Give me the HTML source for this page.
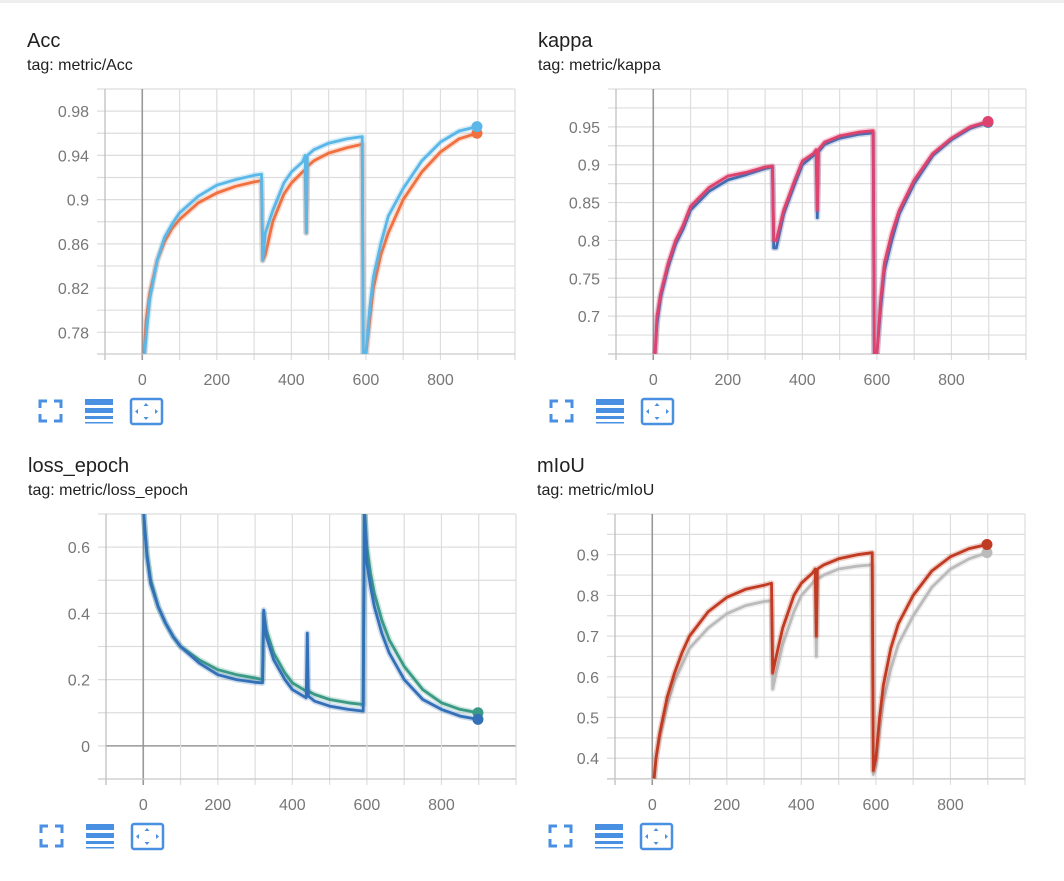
<!DOCTYPE html>
<html><head><meta charset="utf-8"><style>
body{margin:0;background:#fff;width:1064px;height:876px;overflow:hidden;font-family:"Liberation Sans",sans-serif}
svg text{font-family:"Liberation Sans",sans-serif}
</style></head><body>
<svg id="root" width="1064" height="876" viewBox="0 0 1064 876">
<rect x="0" y="0" width="1064" height="3" fill="#eee"/>
</svg>
<script>
// Shared step samples
const steps = [5,10,20,40,60,80,100,150,200,250,300,320,323,330,350,380,400,430,437,440,443,460,500,550,590,593,600,610,620,640,660,700,750,800,850,898];
const xTicks = [0,200,400,600,800];

const accOrange = [0.76,0.79,0.815,0.845,0.862,0.874,0.882,0.897,0.906,0.912,0.916,0.917,0.845,0.85,0.88,0.905,0.915,0.925,0.927,0.87,0.93,0.935,0.942,0.947,0.950,0.76,0.76,0.79,0.82,0.85,0.87,0.9,0.925,0.943,0.955,0.960];
const accBlue = [0.755,0.775,0.81,0.845,0.866,0.878,0.888,0.903,0.913,0.918,0.922,0.923,0.845,0.87,0.89,0.915,0.925,0.934,0.94,0.87,0.94,0.945,0.951,0.955,0.957,0.76,0.76,0.80,0.83,0.86,0.885,0.91,0.935,0.952,0.962,0.966];
const accTicks = [0.78,0.82,0.86,0.9,0.94,0.98];

const kappaBlue = [0.65,0.69,0.725,0.765,0.795,0.815,0.84,0.865,0.88,0.887,0.895,0.897,0.79,0.79,0.835,0.875,0.9,0.912,0.917,0.83,0.917,0.927,0.935,0.94,0.942,0.65,0.65,0.71,0.76,0.80,0.835,0.875,0.912,0.933,0.948,0.956];
const kappaPink = [0.65,0.7,0.73,0.77,0.8,0.82,0.845,0.87,0.885,0.89,0.897,0.898,0.8,0.80,0.84,0.88,0.905,0.915,0.92,0.84,0.92,0.93,0.938,0.943,0.945,0.65,0.65,0.72,0.77,0.81,0.84,0.88,0.915,0.935,0.95,0.957];
const kappaTicks = [0.7,0.75,0.8,0.85,0.9,0.95];

const lossSteps = [0,5,10,20,40,60,80,100,150,200,250,300,320,323,330,350,380,400,430,437,440,443,460,500,550,590,593,600,610,620,640,660,700,750,800,850,898];
const lossTeal = [0.72,0.65,0.58,0.5,0.42,0.37,0.33,0.3,0.26,0.23,0.215,0.205,0.2,0.4,0.35,0.28,0.22,0.19,0.17,0.165,0.165,0.165,0.155,0.14,0.13,0.125,0.72,0.6,0.52,0.46,0.38,0.32,0.24,0.17,0.13,0.11,0.1];
const lossBlue = [0.72,0.64,0.57,0.49,0.42,0.37,0.33,0.3,0.25,0.215,0.2,0.192,0.19,0.41,0.33,0.26,0.2,0.17,0.15,0.145,0.34,0.15,0.135,0.12,0.11,0.105,0.72,0.55,0.48,0.42,0.34,0.28,0.2,0.14,0.11,0.09,0.08];
const lossTicks = [0,0.2,0.4,0.6];

const miouGray = [0.35,0.4,0.45,0.53,0.59,0.63,0.67,0.72,0.755,0.775,0.785,0.787,0.57,0.6,0.68,0.76,0.8,0.83,0.84,0.65,0.84,0.85,0.865,0.872,0.875,0.36,0.38,0.47,0.54,0.62,0.68,0.75,0.82,0.865,0.89,0.905];
const miouRed = [0.35,0.4,0.46,0.55,0.61,0.66,0.7,0.76,0.795,0.815,0.825,0.83,0.61,0.64,0.72,0.8,0.83,0.855,0.865,0.7,0.865,0.875,0.89,0.9,0.905,0.37,0.4,0.5,0.58,0.67,0.73,0.8,0.86,0.895,0.915,0.925];
const miouTicks = [0.4,0.5,0.6,0.7,0.8,0.9];

const NS='http://www.w3.org/2000/svg';
const root=document.getElementById('root');
function mk(tag,attrs,parent){const e=document.createElementNS(NS,tag);for(const k in attrs)e.setAttribute(k,attrs[k]);(parent||root).appendChild(e);return e;}

function panel(cfg){
  const g=mk('g',{});
  
  
  const L=cfg.left,R=cfg.left+410,T=cfg.top,B=cfg.top+265;
  const xs=v=>L+(v+100)/1100*(R-L);
  const ys=v=>B-(v-cfg.ymin)/(cfg.ymax-cfg.ymin)*(B-T);
  const t1=mk('text',{x:cfg.left-78,y:cfg.top-42,'font-size':20,fill:'#212121'},g);t1.textContent=cfg.title;
  
  
  const t2=mk('text',{x:cfg.left-78,y:cfg.top-19,'font-size':16,fill:'#212121'},g);t2.textContent='tag: metric/'+cfg.title;
  
  
  for(let v=cfg.gmin; v<=cfg.ymax+1e-9; v+=cfg.gstep){
    const y=ys(v);
    const ln=mk('line',{x1:L-8,x2:R,y1:y,y2:y,stroke:'#ddd','stroke-width':1.2},g);
    
    
  }
  if(cfg.zero){const ln=mk('line',{x1:L,x2:R,y1:ys(0),y2:ys(0),stroke:'#999','stroke-width':1.5},g);
    
    }
  for(let v=-100; v<=1000; v+=100){
    const x=xs(v);
    const ln=mk('line',{x1:x,x2:x,y1:T,y2:B+6,stroke:v===0?'#999':(v===-100?'#bbb':'#ddd'),'stroke-width':v===0?1.6:1.2},g);
    
    
  }
  mk('line',{x1:L-8,x2:R,y1:B,y2:B,stroke:'#ccc','stroke-width':1.2},g);
  cfg.yt.forEach(v=>{const t=mk('text',{x:L-16,y:ys(v)+6,'font-size':16,fill:'#777','text-anchor':'end'},g);t.textContent=String(v);
    
    });
  xTicks.forEach(v=>{const t=mk('text',{x:xs(v),y:B+31,'font-size':16,fill:'#777','text-anchor':'middle'},g);t.textContent=String(v);
    
    });
  const clip=mk('clipPath',{id:'c'+cfg.name},g);mk('rect',{x:L,y:T,width:R-L,height:B-T},clip);
  cfg.series.forEach(s=>{
    const pts=s.data.map((v,i)=>xs(s.x[i]).toFixed(1)+','+ys(v).toFixed(1)).join(' ');
    const shadow=mk('polyline',{points:pts,fill:'none',stroke:s.color,'stroke-opacity':0.25,'stroke-width':6,'clip-path':'url(#c'+cfg.name+')','stroke-linejoin':'round'},g);
    
    
    const pl=mk('polyline',{points:pts,fill:'none',stroke:s.color,'stroke-width':2.8,'clip-path':'url(#c'+cfg.name+')','stroke-linejoin':'round'},g);
    
    
    const n=s.data.length-1;
    const c=mk('circle',{cx:xs(s.x[n]),cy:ys(s.data[n]),r:5.5,fill:s.color},g);
    
    
  });
  const ix=cfg.left-65, y0=B+47;
  const fs=mk('g',{stroke:'#4a90e2','stroke-width':3,fill:'none'},g);
  
  
  mk('path',{d:`M${ix} ${y0+7}V${y0}H${ix+7} M${ix+14} ${y0}H${ix+21}V${y0+7} M${ix+21} ${y0+13}V${y0+20}H${ix+14} M${ix+7} ${y0+20}H${ix}V${y0+13}`},fs);
  const ls=mk('g',{fill:'#4a90e2'},g);
  
  
  mk('rect',{x:ix+45,y:y0-2,width:28,height:6},ls);
  mk('rect',{x:ix+45,y:y0+7,width:28,height:5},ls);
  mk('rect',{x:ix+45,y:y0+15,width:28,height:3},ls);
  mk('rect',{x:ix+45,y:y0+21,width:28,height:1.5},ls);
  const fit=mk('g',{},g);
  
  
  mk('rect',{x:ix+91,y:y0-2,width:31,height:25,rx:2,fill:'none',stroke:'#4a90e2','stroke-width':2.5},fit);
  mk('path',{d:`M${ix+106} ${y0+2}l-2.5 3h5z M${ix+106} ${y0+19}l-2.5 -3h5z M${ix+95} ${y0+10.5}l3 -2.5v5z M${ix+118} ${y0+10.5}l-3 -2.5v5z`,fill:'#4a90e2'},fit);
}

panel({name:'acc',title:'Acc',left:105,top:89,ymin:0.7604,ymax:1.0,gmin:0.78,gstep:0.02,yt:accTicks,
  series:[{name:'acc-orange',x:steps,data:accOrange,color:'#f0703f'},{name:'acc-blue',x:steps,data:accBlue,color:'#5ab7e8'}]});
panel({name:'kappa',title:'kappa',left:616,top:89,ymin:0.65,ymax:1.0,gmin:0.65,gstep:0.025,yt:kappaTicks,
  series:[{name:'kappa-blue',x:steps,data:kappaBlue,color:'#3a6fb5'},{name:'kappa-pink',x:steps,data:kappaPink,color:'#e0426e'}]});
panel({name:'loss',title:'loss_epoch',left:106,top:514,ymin:-0.1,ymax:0.7,gmin:-0.1,gstep:0.1,yt:lossTicks,zero:true,
  series:[{name:'loss-teal',x:lossSteps,data:lossTeal,color:'#3a9a85'},{name:'loss-blue',x:lossSteps,data:lossBlue,color:'#3470b8'}]});
panel({name:'miou',title:'mIoU',left:615,top:514,ymin:0.349,ymax:1.0,gmin:0.35,gstep:0.05,yt:miouTicks,
  series:[{name:'miou-gray',x:steps,data:miouGray,color:'#bbbbbb'},{name:'miou-red',x:steps,data:miouRed,color:'#c13a22'}]});
</script>
</body></html>
